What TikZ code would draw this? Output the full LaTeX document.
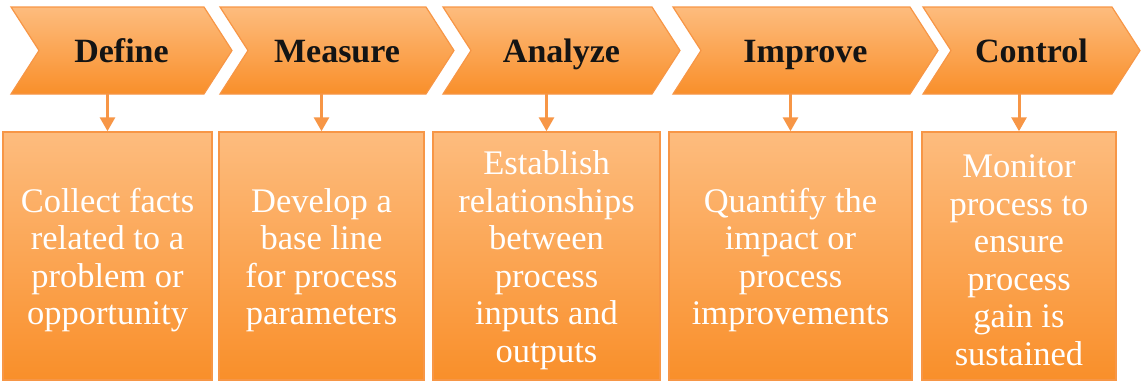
\documentclass[tikz,border=0pt]{standalone}
\usepackage{fontspec}
\setmainfont{Liberation Serif}
\usetikzlibrary{arrows.meta}
\definecolor{orlight}{RGB}{253,188,126}
\definecolor{ordark}{RGB}{249,143,42}
\definecolor{oredge}{RGB}{247,150,70}
\tikzset{
  phase/.style={draw=oredge, line width=1.2pt, top color=orlight, bottom color=ordark},
  phasename/.style={font=\fontsize{34}{40}\selectfont\bfseries, text=black!92, anchor=base, inner sep=0pt},
  stepbox/.style={draw=oredge, line width=1.5pt, top color=orlight, bottom color=ordark,
    minimum height=248pt, inner sep=0pt},
  steptext/.style={inner sep=0pt, text=white, align=center, yshift=-4pt,
    font=\fontsize{34.5}{37.5}\selectfont},
  link/.style={draw=oredge, line width=3pt, -{Triangle[width=15pt,length=14pt]}}
}
\begin{document}
\begin{tikzpicture}[x=1pt,y=-1pt]
\useasboundingbox (0,0) rectangle (1142,381);

% chevrons of the five phases: left edge / tip
\foreach \L/\R/\nm/\lab in {11/232/c1/Define, 220/454/c2/Measure, 443/680/c3/Analyze,
                             673/938/c4/Improve, 923/1140/c5/Control}{
  \path[phase] (\L,7) -- ({\R-28},7) -- (\R,50.5) -- ({\R-28},94) -- (\L,94)
               -- ({\L+28},50.5) -- cycle;
  \node[phasename] (\nm) at ({(\L+\R)/2},62) {\lab};
}

% description boxes
\node[stepbox, minimum width=209pt] (b1) at (107.5,256) {};
\node[stepbox, minimum width=205pt] (b2) at (321.5,256) {};
\node[stepbox, minimum width=227pt] (b3) at (546.5,256) {};
\node[stepbox, minimum width=243pt] (b4) at (790.5,256) {};
\node[stepbox, minimum width=194pt] (b5) at (1019,256) {};

% their texts
\node[steptext] (d1) at (b1.center) {Collect facts\\related to a\\problem or\\opportunity};
\node[steptext] (d2) at (b2.center) {Develop a\\base line\\for process\\parameters};
\node[steptext] (d3) at (b3.center) {Establish\\relationships\\between\\process\\inputs and\\outputs};
\node[steptext] (d4) at (b4.center) {Quantify the\\impact or\\process\\improvements};
\node[steptext] (d5) at (b5.center) {Monitor\\process to\\ensure\\process\\gain is\\sustained};

% arrows from each chevron down to its box
\coordinate (t1) at (107.5,94);
\coordinate (t2) at (321.5,94);
\coordinate (t3) at (546.5,94);
\coordinate (t4) at (790.5,94);
\coordinate (t5) at (1019,94);
\foreach \i in {1,...,5}{
  \draw[link] (t\i) -- (b\i.north);
}
\end{tikzpicture}
\end{document}
